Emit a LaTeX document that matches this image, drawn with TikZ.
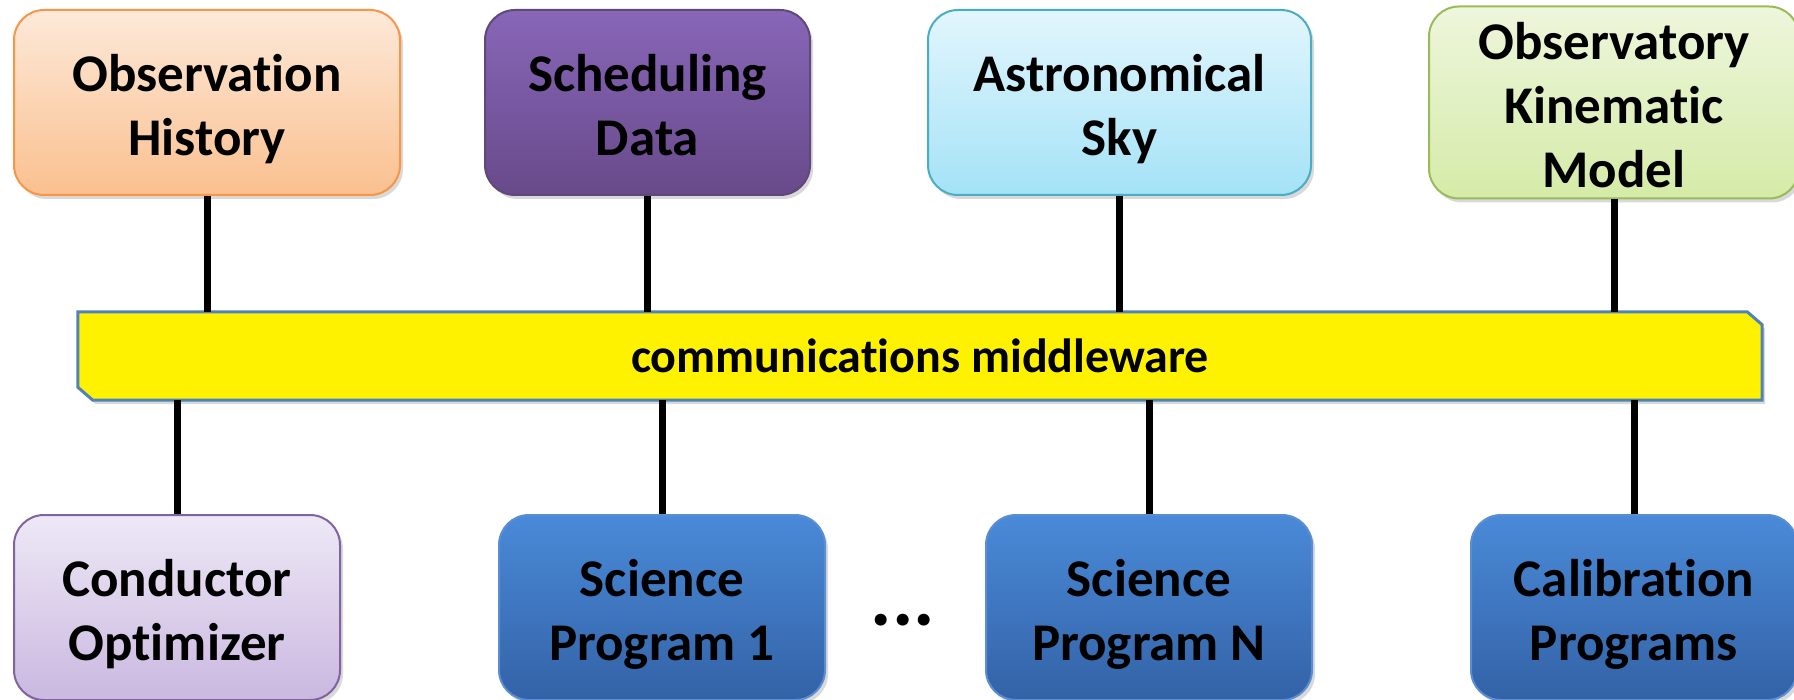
\documentclass[tikz,border=0pt]{standalone}
\usepackage{fontspec}
\setmainfont{Carlito}[Ligatures=NoCommon]
\usetikzlibrary{positioning}
\usetikzlibrary{shadows}
\usetikzlibrary{backgrounds}

\definecolor{histtop}{HTML}{FDE9D9}
\definecolor{histbot}{HTML}{FAC08F}
\definecolor{histline}{HTML}{F79646}
\definecolor{schedtop}{HTML}{8866B8}
\definecolor{schedbot}{HTML}{684A8A}
\definecolor{schedline}{HTML}{5F497A}
\definecolor{skytop}{HTML}{E2F6FD}
\definecolor{skybot}{HTML}{A4E2F7}
\definecolor{skyline}{HTML}{4BACC6}
\definecolor{modeltop}{HTML}{EEF6DC}
\definecolor{modelbot}{HTML}{D5EBA8}
\definecolor{modelline}{HTML}{9BBB59}
\definecolor{condtop}{HTML}{EEE8F6}
\definecolor{condbot}{HTML}{CAB8E0}
\definecolor{condline}{HTML}{8064A2}
\definecolor{progtop}{HTML}{4A8AD8}
\definecolor{progbot}{HTML}{3362A6}
\definecolor{progline}{HTML}{5A8DD2}
\definecolor{mwline}{HTML}{4F81BD}

% stacked lines of a box, lowered a little
\newcommand\boxtext[2][-8pt]{\raisebox{#1}[\height][\depth]{\begin{tabular}{@{}c@{}}#2\end{tabular}}}

\begin{document}
\begin{tikzpicture}[x=1pt,y=-1pt,node distance=83pt,
  box/.style={rounded corners=30pt,draw,line width=2pt,
    minimum height=185pt,inner sep=0pt,
    font=\bfseries\fontsize{53}{64}\selectfont,
    drop shadow={opacity=0.3,shadow xshift=3pt,shadow yshift=-4pt}},
  hist box/.style={box,minimum width=386pt,top color=histtop,bottom color=histbot,draw=histline},
  sched box/.style={box,minimum width=325pt,top color=schedtop,bottom color=schedbot,draw=schedline},
  sky box/.style={box,minimum width=383pt,top color=skytop,bottom color=skybot,draw=skyline},
  model box/.style={box,minimum width=370pt,top color=modeltop,bottom color=modelbot,draw=modelline},
  cond box/.style={box,minimum width=326pt,top color=condtop,bottom color=condbot,draw=condline},
  prog box/.style={box,minimum width=326pt,top color=progtop,bottom color=progbot,draw=progline},
  link/.style={line width=7pt,black}]

  \useasboundingbox (0,0) rectangle (1794,700);

  % upper row
  \node[hist box] (obshist) at (207,102.5) {\boxtext{Observation\\History}};
  \node[sched box] (scheddata) [right=83pt of obshist] {\boxtext{Scheduling\\Data}};
  \node[sky box] (astrosky) [right=116pt of scheddata] {\boxtext{Astronomical\\Sky}};
  \node[model box] (obsmodel) [right=116pt of astrosky] {\boxtext{Observatory\\Kinematic\\Model}};

  % middleware bar
  \node[minimum width=1684pt,minimum height=88pt,inner sep=0pt,
    font=\bfseries\fontsize{48}{64}\selectfont] (mw) at (920,356) {communications middleware};
  \begin{scope}[on background layer]
    \draw[fill=yellow,draw=mwline,line width=3pt,
      drop shadow={opacity=0.3,shadow xshift=3pt,shadow yshift=-4pt}]
      (mw.north west) -- ([xshift=-15pt]mw.north east) -- ([yshift=-13pt]mw.north east)
      -- (mw.south east) -- ([xshift=15pt]mw.south west) -- ([yshift=13pt]mw.south west) -- cycle;
  \end{scope}

  % lower row
  \node[cond box] (conductor) at (177,607.5) {\boxtext{Conductor\\Optimizer}};
  \node[prog box] (sciprog1) [right=157pt of conductor] {\boxtext{Science\\Program 1}};
  \node[prog box] (sciprogN) [right=159pt of sciprog1] {\boxtext{Science\\Program N}};
  \node[prog box] (calibprog) [right=157pt of sciprogN] {\boxtext{Calibration\\Programs}};
  \node[font=\bfseries\fontsize{80}{80}\selectfont] (dots) at (903,620) {...};

  % links to the bar
  \foreach \n in {obshist,scheddata,astrosky,obsmodel}
    \draw[link] (\n.south) -- (\n.south |- mw.north);
  \foreach \n in {conductor,sciprog1,sciprogN,calibprog}
    \draw[link] (\n.north) -- (\n.north |- mw.south);
\end{tikzpicture}
\end{document}
